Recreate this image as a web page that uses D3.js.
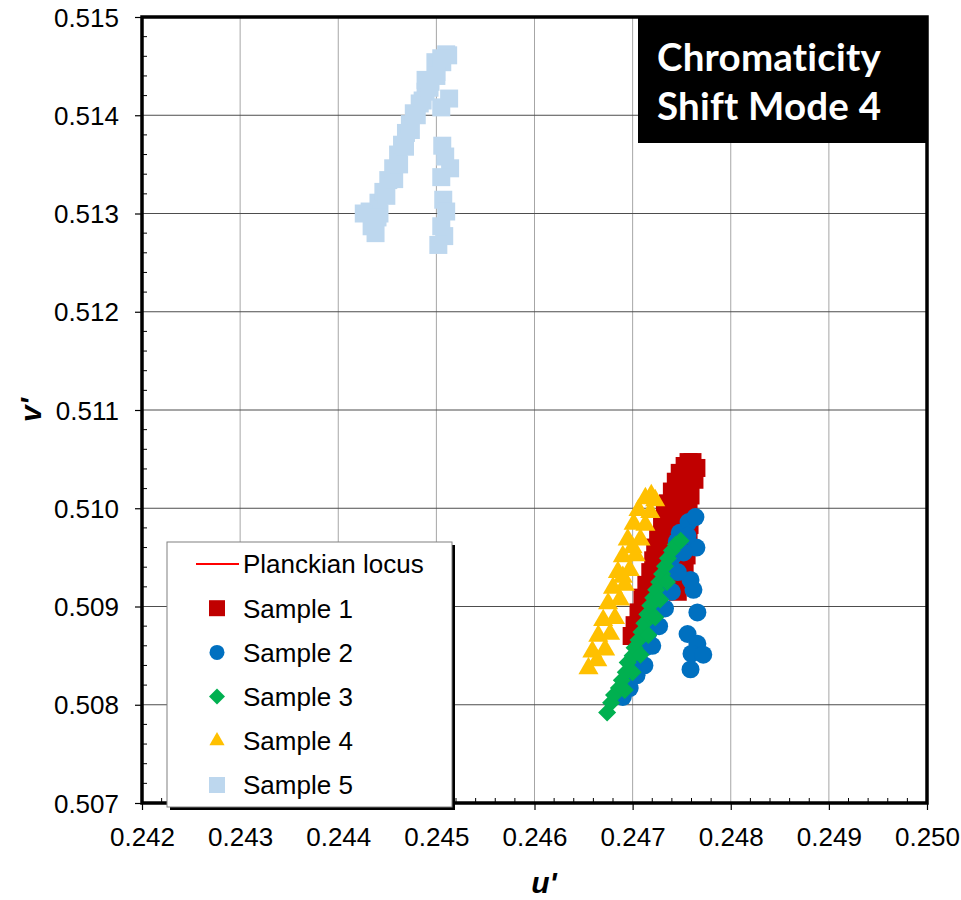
<!DOCTYPE html>
<html><head><meta charset="utf-8">
<script src="https://cdn.jsdelivr.net/npm/d3@7/dist/d3.min.js"></script>
<style>body{margin:0;background:#fff}</style>
</head><body>
<svg id="chart" width="961" height="900" xmlns="http://www.w3.org/2000/svg"></svg>
<script>
// ---- data (u', v') ----
const xTickValues = [0.242,0.243,0.244,0.245,0.246,0.247,0.248,0.249,0.250];
const yTickValues = [0.507,0.508,0.509,0.510,0.511,0.512,0.513,0.514,0.515];
const xTickLabels = ["0.242","0.243","0.244","0.245","0.246","0.247","0.248","0.249","0.250"];
const yTickLabels = ["0.507","0.508","0.509","0.510","0.511","0.512","0.513","0.514","0.515"];
const seriesNames = ["Planckian locus","Sample 1","Sample 2","Sample 3","Sample 4","Sample 5"];
const planckianLocus = []; // outside the visible window
const sample1 = [
 [0.24702,0.50881],[0.24706,0.50894],[0.24710,0.50909],[0.24714,0.50922],[0.24718,0.50935],
 [0.24721,0.50947],[0.24723,0.50960],[0.24726,0.50971],[0.24730,0.50983],[0.24733,0.50994],
 [0.24736,0.51005],[0.24740,0.51017],[0.24744,0.51027],[0.24748,0.51036],[0.24753,0.51043],
 [0.24757,0.51047],[0.24761,0.51047],[0.24765,0.51041],[0.24763,0.51029],[0.24759,0.51013],
 [0.24757,0.50998],[0.24758,0.50983],[0.24757,0.50968],[0.24755,0.50952],[0.24753,0.50939],
 [0.24748,0.50927],[0.24746,0.50915],
 [0.24727,0.50940],[0.24732,0.50960],[0.24737,0.50980],[0.24742,0.51000],[0.24747,0.51020],
 [0.24752,0.51030],[0.24750,0.51010],[0.24746,0.50992],[0.24742,0.50975],[0.24738,0.50958],
 [0.24715,0.50905],[0.24720,0.50920],[0.24699,0.50870]
];
const sample2 = [
 [0.24690,0.50808],[0.24697,0.50817],[0.24704,0.50830],[0.24708,0.50843],[0.24714,0.50859],
 [0.24716,0.50873],[0.24722,0.50889],[0.24727,0.50904],[0.24732,0.50919],[0.24738,0.50937],
 [0.24740,0.50950],[0.24745,0.50966],[0.24748,0.50975],[0.24757,0.50986],[0.24764,0.50991],
 [0.24765,0.50960],[0.24759,0.50927],[0.24762,0.50917],[0.24766,0.50894],[0.24756,0.50872],
 [0.24766,0.50862],[0.24760,0.50852],[0.24772,0.50851],[0.24759,0.50836],
 [0.24712,0.50840],[0.24720,0.50860],[0.24727,0.50880],[0.24733,0.50898],[0.24740,0.50915],
 [0.24746,0.50935],[0.24752,0.50955],[0.24756,0.50972]
];
const sample3 = [
 [0.24674,0.50792],[0.24678,0.50802],[0.24681,0.50810],[0.24686,0.50817],[0.24689,0.50825],
 [0.24693,0.50833],[0.24695,0.50843],[0.24700,0.50850],[0.24702,0.50858],[0.24706,0.50866],
 [0.24709,0.50874],[0.24712,0.50883],[0.24715,0.50892],[0.24718,0.50901],[0.24721,0.50909],
 [0.24724,0.50917],[0.24727,0.50925],[0.24730,0.50933],[0.24733,0.50941],[0.24736,0.50949],
 [0.24740,0.50957],[0.24744,0.50963],[0.24749,0.50967],
 [0.24692,0.50815],[0.24700,0.50833],[0.24708,0.50851],[0.24716,0.50871],[0.24723,0.50889],
 [0.24728,0.50907],[0.24735,0.50925]
];
const sample4 = [
 [0.24655,0.50837],[0.24659,0.50854],[0.24665,0.50870],[0.24670,0.50886],[0.24675,0.50903],
 [0.24680,0.50919],[0.24685,0.50935],[0.24690,0.50951],[0.24695,0.50968],[0.24701,0.50984],
 [0.24706,0.50998],[0.24713,0.51010],[0.24719,0.51013],
 [0.24672,0.50856],[0.24677,0.50872],[0.24682,0.50888],[0.24687,0.50907],[0.24692,0.50922],
 [0.24697,0.50937],[0.24703,0.50952],[0.24708,0.50968],[0.24713,0.50983],[0.24718,0.50996],
 [0.24723,0.51008],[0.24664,0.50845],[0.24690,0.50930],[0.24700,0.50960]
];
const sample5 = [
 [0.24434,0.51287],[0.24432,0.51302],[0.24441,0.51311],[0.24446,0.51322],[0.24451,0.51334],
 [0.24456,0.51346],[0.24461,0.51360],[0.24465,0.51370],[0.24469,0.51382],[0.24473,0.51391],
 [0.24477,0.51402],[0.24483,0.51412],[0.24489,0.51424],[0.24494,0.51434],[0.24500,0.51444],
 [0.24506,0.51454],[0.24510,0.51462],[0.24512,0.51461],[0.24499,0.51454],[0.24489,0.51436],
 [0.24513,0.51417],[0.24505,0.51408],[0.24506,0.51369],[0.24509,0.51358],[0.24514,0.51346],
 [0.24505,0.51337],[0.24507,0.51314],[0.24510,0.51302],[0.24505,0.51287],[0.24508,0.51277],
 [0.24502,0.51268],
 [0.24442,0.51300],[0.24449,0.51318],[0.24457,0.51335],[0.24462,0.51350],[0.24468,0.51368],
 [0.24474,0.51385],[0.24480,0.51400],[0.24486,0.51415],[0.24493,0.51428],[0.24500,0.51440],
 [0.24426,0.51300],[0.24438,0.51280],[0.24440,0.51296],[0.24505,0.51458]
];
const titleLines = ["Chromaticity","Shift Mode 4"];

// ---- chart ----
const svg = d3.select("#chart");
const L=142, R=927, T=17, B=803;
const x = d3.scaleLinear().domain([0.242,0.250]).range([L,R]);
const y = d3.scaleLinear().domain([0.507,0.515]).range([B,T]);
const font = "'Liberation Sans', Arial, sans-serif";

// grid
const g = svg.append("g");
g.selectAll(".vg").data(xTickValues.slice(1,-1)).join("line")
  .attr("x1",d=>x(d)).attr("x2",d=>x(d)).attr("y1",T).attr("y2",B)
  .attr("stroke","#a6a6a6").attr("stroke-width",1);
g.selectAll(".hg").data(yTickValues.slice(1,-1)).join("line")
  .attr("x1",L).attr("x2",R).attr("y1",d=>y(d)).attr("y2",d=>y(d))
  .attr("stroke","#4d4d4d").attr("stroke-width",1);

// minor ticks
const xMinor = d3.range(0,41).map(i=>0.242+i*0.0002).filter((d,i)=>i%5!==0);
const yMinor = d3.range(0,41).map(i=>0.507+i*0.0002).filter((d,i)=>i%5!==0);
g.selectAll(".xm").data(xMinor).join("line")
  .attr("x1",d=>x(d)).attr("x2",d=>x(d)).attr("y1",B).attr("y2",B-5)
  .attr("stroke","#000").attr("stroke-width",1);
g.selectAll(".ym").data(yMinor).join("line")
  .attr("x1",L).attr("x2",L+5).attr("y1",d=>y(d)).attr("y2",d=>y(d))
  .attr("stroke","#000").attr("stroke-width",1);

// axes with d3
const xAxis = d3.axisBottom(x).tickValues(xTickValues).tickFormat((d,i)=>xTickLabels[i]).tickSize(7).tickSizeOuter(0);
const yAxis = d3.axisLeft(y).tickValues(yTickValues).tickFormat((d,i)=>yTickLabels[i]).tickSize(7).tickSizeOuter(0);
const gx = svg.append("g").attr("transform",`translate(0,${B})`).call(xAxis);
const gy = svg.append("g").attr("transform",`translate(${L},0)`).call(yAxis);
[gx,gy].forEach(a=>{
  a.select(".domain").remove();
  a.selectAll(".tick line").attr("stroke","#000").attr("stroke-width",1.2);
  a.selectAll(".tick text").attr("font-family",font).attr("font-size",26).attr("fill","#000");
});
gx.selectAll(".tick text").attr("dy",0).attr("y",43);
gy.selectAll(".tick text").attr("x",-23).attr("dy","0.35em");

// plot frame
svg.append("rect").attr("x",L).attr("y",T).attr("width",R-L).attr("height",B-T)
  .attr("fill","none").attr("stroke","#000").attr("stroke-width",3.5);

// clip
svg.append("clipPath").attr("id","clip").append("rect")
  .attr("x",L).attr("y",T).attr("width",R-L).attr("height",B-T);
const plot = svg.append("g").attr("clip-path","url(#clip)");

plot.append("path").datum(planckianLocus)
  .attr("d",d3.line().x(d=>x(d[0])).y(d=>y(d[1])))
  .attr("fill","none").attr("stroke","#ff0000").attr("stroke-width",2);

const styles = [
  {data:sample1, color:"#C00000", type:d3.symbolSquare, size:324, rot:0, lsize:256},
  {data:sample2, color:"#0070C0", type:d3.symbolCircle, size:254, rot:0, lsize:177},
  {data:sample3, color:"#00B050", type:d3.symbolSquare, size:162, rot:45, lsize:128},
  {data:sample4, color:"#FFC000", type:d3.symbolTriangle, size:175, rot:0, lsize:100},
  {data:sample5, color:"#BDD7EE", type:d3.symbolSquare, size:324, rot:0, lsize:256}
];
styles.forEach(s=>{
  plot.append("g").selectAll("path").data(s.data).join("path")
    .attr("d",d3.symbol().type(s.type).size(s.size))
    .attr("transform",d=>`translate(${x(d[0])},${y(d[1])}) rotate(${s.rot})`)
    .attr("fill",s.color);
});

// title box
const tb = svg.append("g");
tb.append("rect").attr("x",638).attr("y",18).attr("width",290).attr("height",125).attr("fill","#000");
tb.selectAll("text").data(titleLines).join("text")
  .attr("x",657).attr("y",(d,i)=>71+i*49)
  .attr("font-family","Lato, 'Open Sans', sans-serif").attr("font-weight","bold")
  .attr("letter-spacing","0.2px")
  .style("font-variant-ligatures","none").style("font-feature-settings","'liga' 0, 'clig' 0, 'dlig' 0")
  .attr("font-size",38.5).attr("fill","#fff").text(d=>d);

// legend
const lg = svg.append("g");
lg.append("rect").attr("x",170).attr("y",545).attr("width",285).attr("height",265).attr("fill","#000");
lg.append("rect").attr("x",167).attr("y",542).attr("width",285).attr("height",265)
  .attr("fill","#fff").attr("stroke","#808080").attr("stroke-width",1);
const rowY = i => 564 + i*44.2;
lg.append("line").attr("x1",196).attr("x2",239).attr("y1",rowY(0)).attr("y2",rowY(0))
  .attr("stroke","#ff0000").attr("stroke-width",2);
styles.forEach((s,i)=>{
  lg.append("path").attr("d",d3.symbol().type(s.type).size(s.lsize)())
    .attr("transform",`translate(217,${rowY(i+1)}) rotate(${s.rot})`).attr("fill",s.color);
});
lg.selectAll("text").data(seriesNames).join("text")
  .attr("x",243).attr("y",(d,i)=>rowY(i)).attr("dy","0.36em")
  .attr("font-family",font).attr("font-size",26).attr("fill","#000").text(d=>d);

// axis titles
svg.append("text").attr("x",544).attr("y",893).attr("text-anchor","middle")
  .attr("font-family",font).attr("font-size",30).attr("font-weight","bold").attr("font-style","italic").text("u'");
svg.append("text").attr("transform","translate(41,410) rotate(-90)").attr("text-anchor","middle")
  .attr("font-family",font).attr("font-size",30).attr("font-weight","bold").attr("font-style","italic").text("v'");
</script>
</body></html>
